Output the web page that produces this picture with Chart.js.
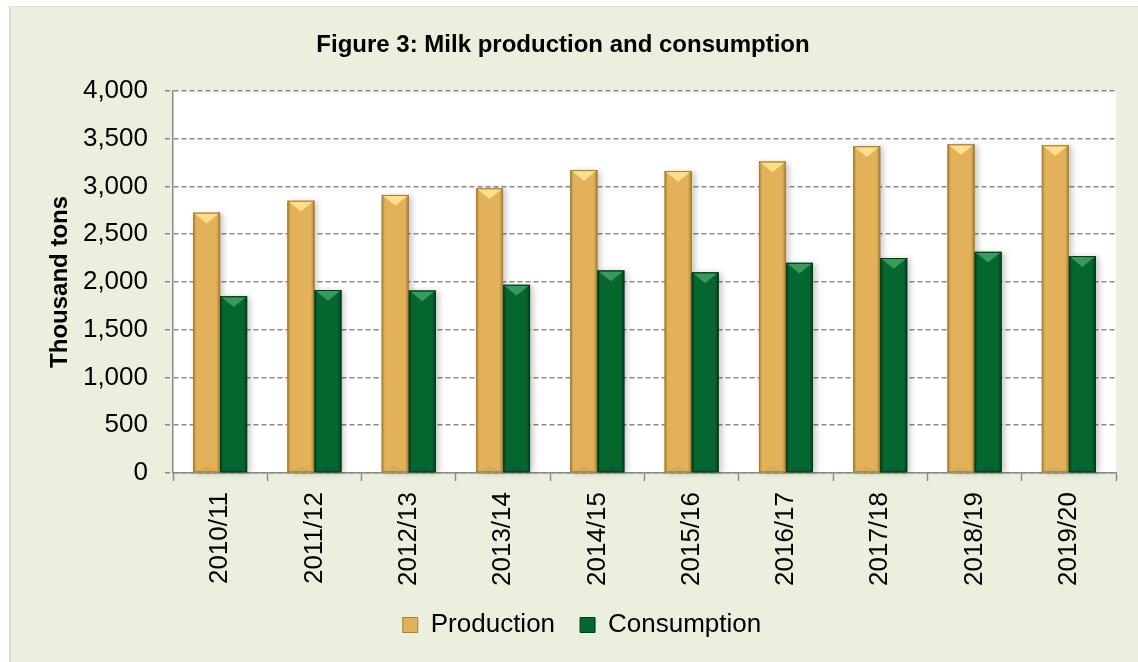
<!DOCTYPE html>
<html>
<head>
<meta charset="utf-8">
<title>Milk production and consumption</title>
<script src="https://cdn.jsdelivr.net/npm/chart.js@4.4.1/dist/chart.umd.min.js"></script>
<style>
    html, body { margin: 0; padding: 0; background: #ffffff; }
    #chart { display: block; }
</style>
</head>
<body>
<canvas id="chart" width="1138" height="662"></canvas>
<script>
// Данные графика
const seasons = ["2010/11", "2011/12", "2012/13", "2013/14", "2014/15", "2015/16", "2016/17", "2017/18", "2018/19", "2019/20"];
const production = [2725, 2850, 2910, 2980, 3170, 3160, 3260, 3420, 3440, 3430];
const consumption = [1850, 1915, 1910, 1970, 2120, 2100, 2200, 2250, 2315, 2270];
const yTicks = [0, 500, 1000, 1500, 2000, 2500, 3000, 3500, 4000];

const FONT = "'Liberation Sans', Arial, sans-serif";
const GRID = "#8a8a8a";

// Цвета столбцов: основной, тёмный край, светлая фаска, тёмная фаска
const palette = [
    { base: "#e2b15a", edge: "#a97f33", light: "#ffe08a", dark: "#d9a953" },
    { base: "#05662f", edge: "#023d1b", light: "#3a9a5c", dark: "#055e2c" },
];

// Фон рамки и белая область построения
const framePlugin = {
    id: "frame",
    beforeDraw(chart) {
        const { ctx, width, height, chartArea } = chart;
        ctx.save();
        ctx.fillStyle = "#ffffff";
        ctx.fillRect(0, 0, width, height);
        ctx.fillStyle = "#dcdcdc";
        ctx.fillRect(9, 6, width - 9, height - 6);
        ctx.fillStyle = "#ebefde";
        ctx.fillRect(11, 7, width - 11, height - 7);
        ctx.fillStyle = "#ffffff";
        ctx.fillRect(chartArea.left, chartArea.top, chartArea.right - chartArea.left, chartArea.bottom - chartArea.top);
        ctx.restore();
    },
};

// Объёмная заливка столбцов поверх стандартных прямоугольников
const bevelPlugin = {
    id: "bevel",
    afterDatasetsDraw(chart) {
        const ctx = chart.ctx;
        chart.data.datasets.forEach((ds, di) => {
            const meta = chart.getDatasetMeta(di);
            const c = palette[di];
            meta.data.forEach((bar) => {
                const w = bar.width;
                const l = bar.x - w / 2;
                const r = bar.x + w / 2;
                const t = bar.y;
                const b = bar.base;
                const h = b - t;
                const g = ctx.createLinearGradient(l, 0, r, 0);
                g.addColorStop(0, c.edge);
                g.addColorStop(0.12, c.base);
                g.addColorStop(0.5, c.base);
                g.addColorStop(0.86, c.base);
                g.addColorStop(1, c.edge);
                ctx.save();
                ctx.shadowColor = "rgba(0,0,0,0.22)";
                ctx.shadowBlur = 6;
                ctx.shadowOffsetX = 3;
                ctx.shadowOffsetY = 1;
                ctx.fillStyle = g;
                ctx.fillRect(l, t, w, h);
                ctx.restore();

                const d = Math.min(w * 0.4, h / 2);
                ctx.save();
                ctx.fillStyle = c.light;
                ctx.beginPath();
                ctx.moveTo(l + 1.5, t + 1);
                ctx.lineTo(r - 1.5, t + 1);
                ctx.lineTo(bar.x, t + d);
                ctx.closePath();
                ctx.fill();
                ctx.fillStyle = c.dark;
                ctx.beginPath();
                ctx.moveTo(l + 2, b);
                ctx.lineTo(r - 2, b);
                ctx.lineTo(bar.x, b - d * 0.6);
                ctx.closePath();
                ctx.fill();
                ctx.strokeStyle = c.edge;
                ctx.lineWidth = 1;
                ctx.strokeRect(l + 0.5, t + 0.5, w - 1, h - 1);
                ctx.restore();
            });
        });
    },
};

// Сдвиг легенды вправо, как в оригинале
const legendShift = {
    id: "legendShift",
    afterLayout(chart) {
        if (chart.legend) {
            chart.legend.left += 19;
            chart.legend.right += 19;
        }
    },
};

new Chart(document.getElementById("chart"), {
    type: "bar",
    data: {
        labels: seasons,
        datasets: [
            {
                label: "Production",
                data: production,
                backgroundColor: palette[0].base,
                borderColor: palette[0].edge,
                borderWidth: 1,
                categoryPercentage: 0.573,
                barPercentage: 1.0,
            },
            {
                label: "Consumption",
                data: consumption,
                backgroundColor: palette[1].base,
                borderColor: palette[1].edge,
                borderWidth: 1,
                categoryPercentage: 0.573,
                barPercentage: 1.0,
            },
        ],
    },
    options: {
        responsive: false,
        animation: false,
        layout: { padding: { left: 10, right: 22, top: 7, bottom: 14 } },
        plugins: {
            title: {
                display: true,
                text: "Figure 3: Milk production and consumption",
                color: "#000",
                font: { family: FONT, size: 24, weight: "bold", lineHeight: 1.2 },
                padding: { top: 24, bottom: 31 },
            },
            legend: {
                position: "bottom",
                labels: {
                    color: "#000",
                    font: { family: FONT, size: 26 },
                    boxWidth: 15,
                    boxHeight: 15,
                    padding: 25,
                },
            },
            tooltip: { enabled: false },
        },
        scales: {
            x: {
                offset: true,
                grid: {
                    offset: true,
                    drawOnChartArea: false,
                    drawTicks: true,
                    tickLength: 8,
                    tickColor: GRID,
                    tickWidth: 1.5,
                },
                border: { display: true, color: GRID, width: 1.5 },
                ticks: {
                    color: "#000",
                    font: { family: FONT, size: 26 },
                    minRotation: 90,
                    maxRotation: 90,
                    padding: 11,
                    autoSkip: false,
                },
                afterFit(scale) {
                    scale.height = 114;
                },
            },
            y: {
                min: yTicks[0],
                max: yTicks[yTicks.length - 1],
                afterBuildTicks(scale) {
                    scale.ticks = yTicks.map((v) => ({ value: v }));
                },
                grid: {
                    color: GRID,
                    lineWidth: 1.5,
                    tickLength: 8,
                    tickColor: GRID,
                    tickBorderDash: [5, 3],
                },
                border: { display: true, color: GRID, width: 1.5, dash: [5, 3] },
                ticks: {
                    color: "#000",
                    font: { family: FONT, size: 26 },
                    padding: 17,
                    callback: (v) => v.toLocaleString("en-US"),
                },
                title: {
                    display: true,
                    text: "Thousand tons",
                    color: "#000",
                    font: { family: FONT, size: 24, weight: "bold", lineHeight: 1.2 },
                    padding: { top: 36, bottom: 0 },
                },
                afterFit(scale) {
                    scale.width = 163;
                },
            },
        },
    },
    plugins: [framePlugin, bevelPlugin, legendShift],
});
</script>
</body>
</html>
